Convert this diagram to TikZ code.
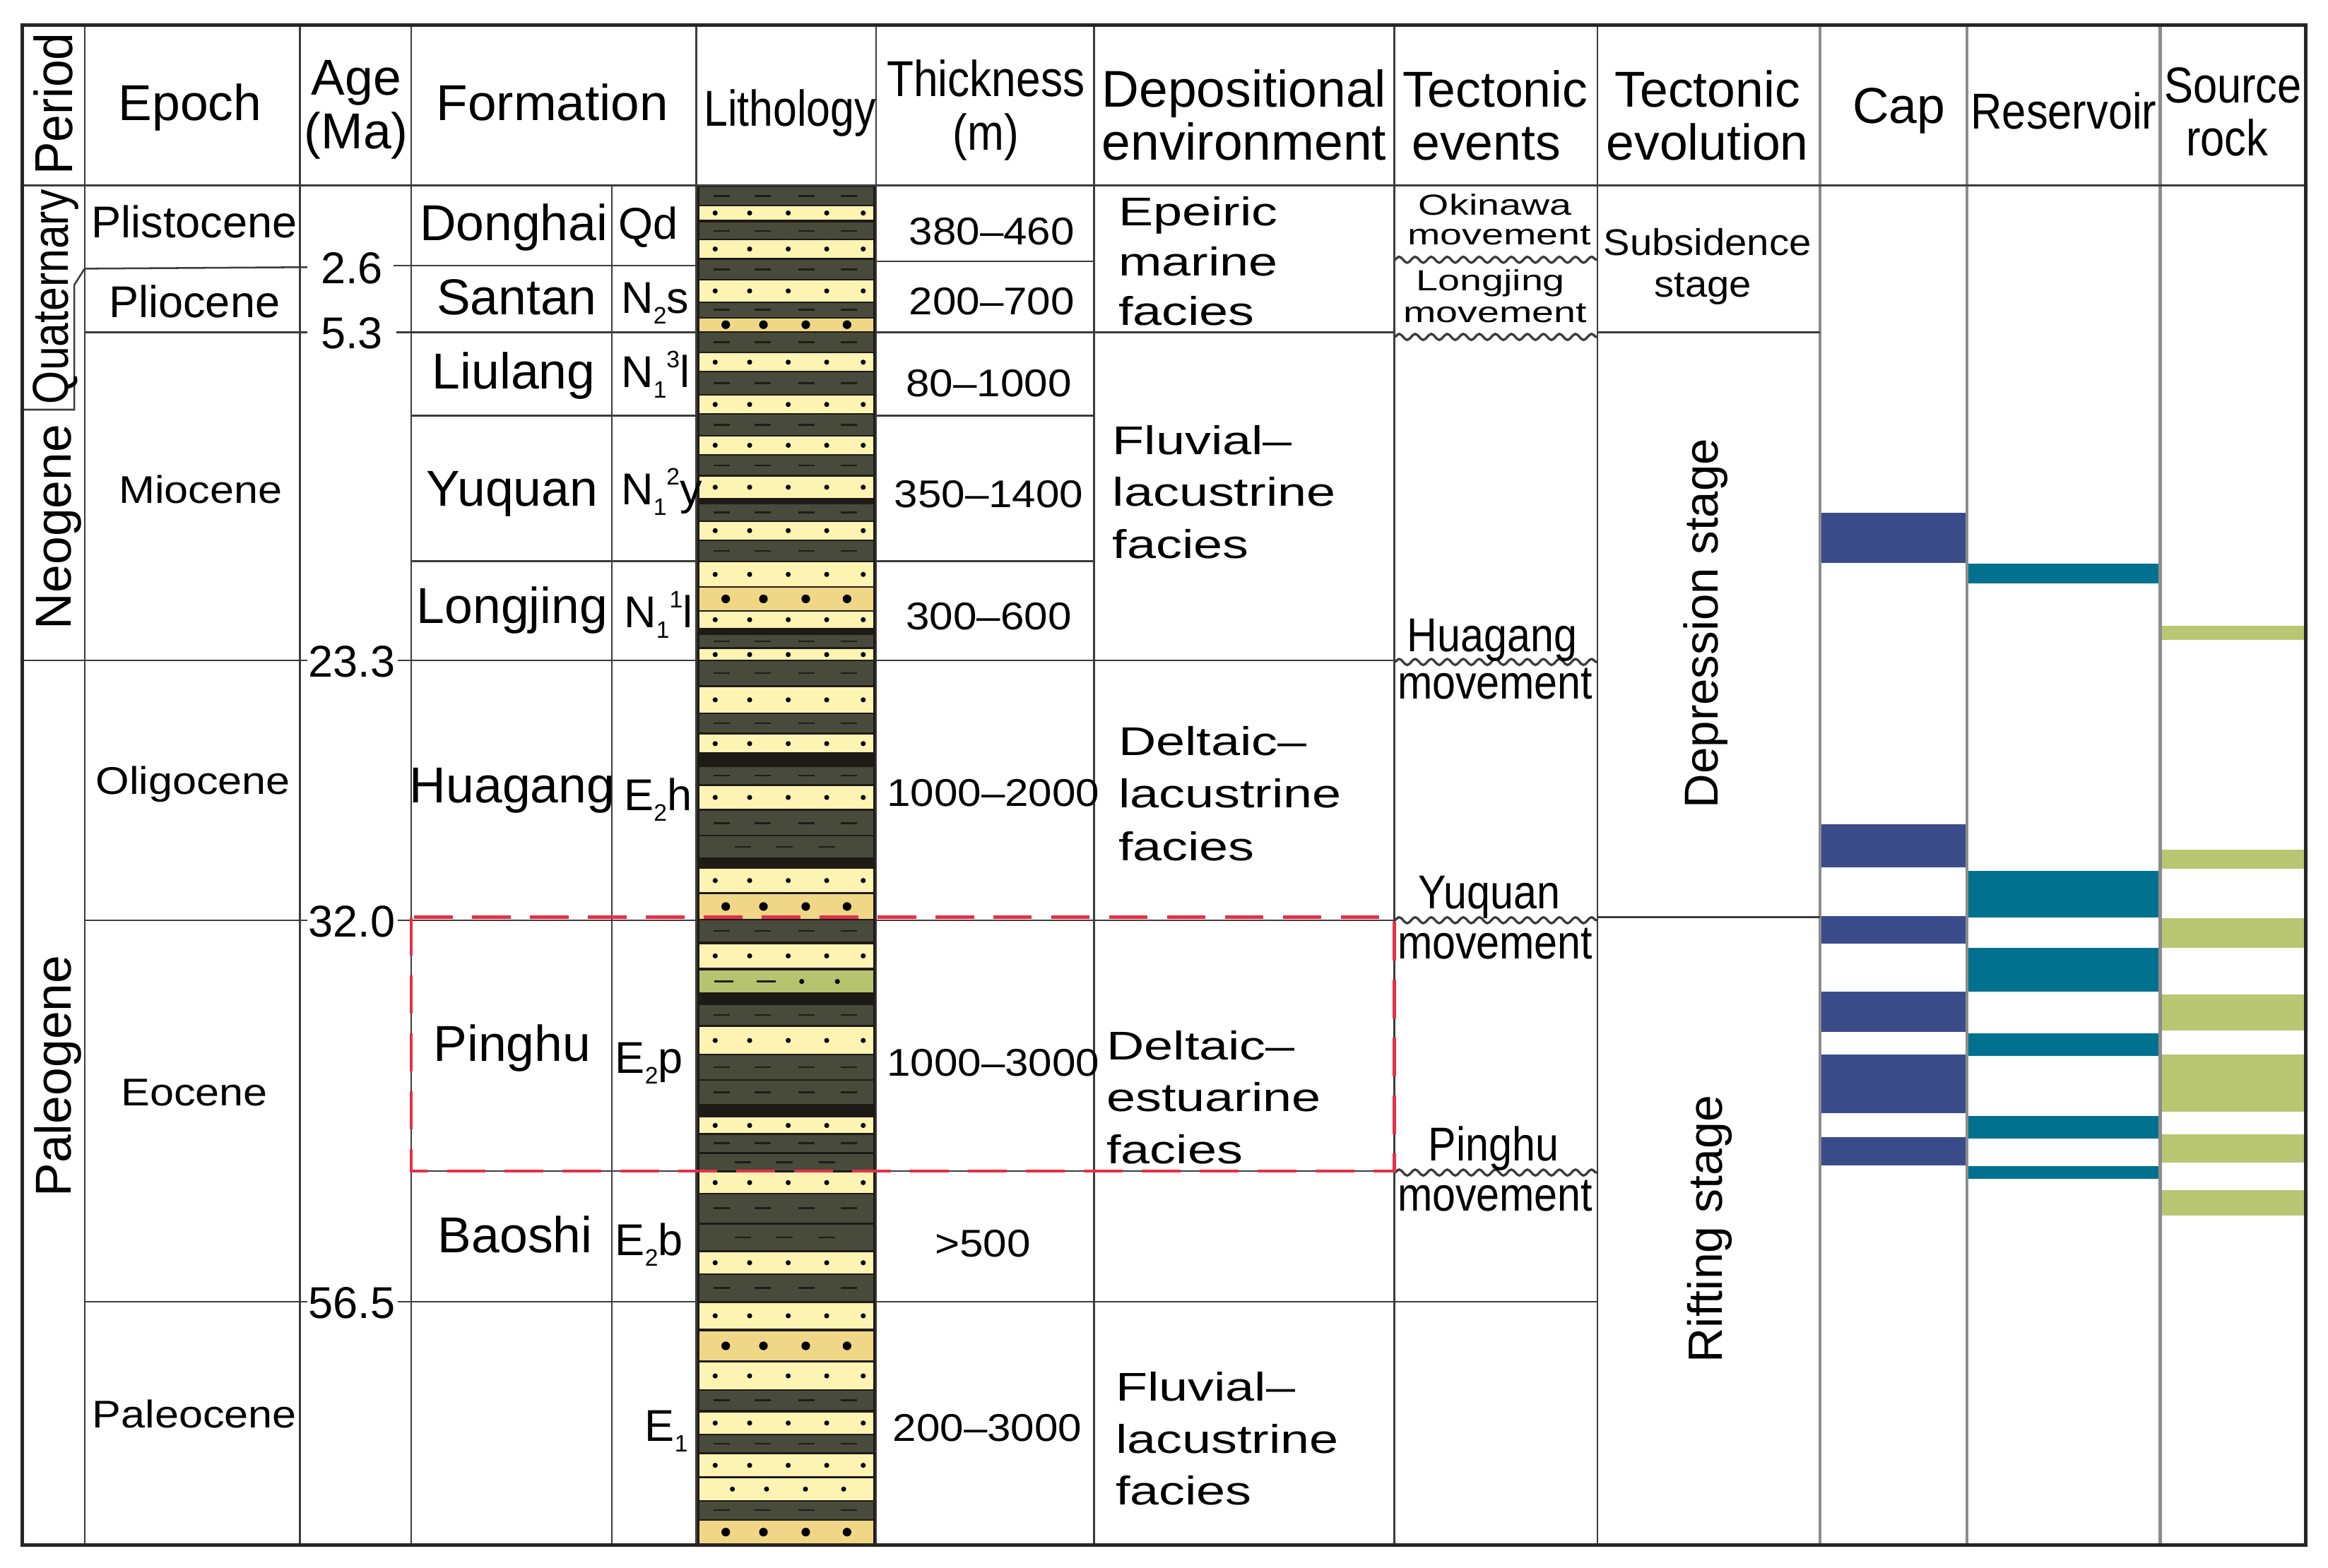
\documentclass[tikz,border=0pt]{standalone}
\usepackage{fontspec}
\setmainfont{Liberation Sans}
\usetikzlibrary{decorations.pathmorphing}
\definecolor{shale}{RGB}{72,74,60}
\definecolor{sand}{RGB}{253,244,180}
\definecolor{cong}{RGB}{240,215,135}
\definecolor{silt}{RGB}{182,196,112}
\definecolor{litbg}{RGB}{30,26,22}
\definecolor{dashc}{RGB}{30,30,24}
\definecolor{capc}{RGB}{58,77,138}
\definecolor{resc}{RGB}{0,114,143}
\definecolor{srcc}{RGB}{185,198,114}
\definecolor{redd}{RGB}{228,48,72}
\definecolor{gridc}{RGB}{60,60,60}
\definecolor{gridl}{RGB}{140,140,140}
\newcommand\fs[2]{\fontsize{#1}{#1}\selectfont\addfontfeature{FakeStretch=#2}}
\newcommand\lsub[1]{\raisebox{-0.45ex}{\fontsize{8}{8}\selectfont #1}}
\newcommand\lsup[1]{\raisebox{0.85ex}{\fontsize{8}{8}\selectfont #1}}
\tikzset{
  tb/.style={anchor=base, inner sep=0pt},
  tw/.style={anchor=base west, inner sep=0pt},
  grid/.style={draw=gridc, line width=0.6pt},
  gridg/.style={draw=gridl, line width=1pt},
  wavy/.style={draw=gridc, line width=0.8pt, decorate, decoration={snake, amplitude=1pt, segment length=5.4pt}},
  hdr/.style={tb, font=\fs{17}{1}},
  hdrn/.style={tb, font=\fs{17}{0.86}},
  epo/.style={tb, font=\fs{13}{1.12}},
  agel/.style={tb, font=\fs{15}{1}},
  fmn/.style={tb, font=\fs{17}{1}},
  code/.style={tw, font=\fs{15}{1}},
  thk/.style={tb, font=\fs{13}{1.1}},
  dep/.style={tw, font=\fs{13.5}{1.3}},
  evs/.style={tb, font=\fs{9.8}{1.35}},
  evb/.style={tb, font=\fs{16}{0.88}},
  redbox/.style={draw=redd, line width=1.1pt, dash pattern=on 13pt off 6.5pt}
}
\begin{document}
\begin{tikzpicture}[x=0.5pt, y=-0.5pt]
\useasboundingbox (0,0) rectangle (1568,1056);
\fill[white] (0,0) rectangle (1568,1056);

% ---------- lithology column ----------
\fill[litbg] (469,125) rectangle (590,1041);
\foreach \t/\b/\k in {
  126/138/1, 139/148/2, 150/161/1, 162/173.5/2, 175/188/1, 189/203/2, 204/213.5/1, 214.5/223/3,
  224/237/1, 238/250/2, 251/265.5/1, 266.5/278.5/2, 279.5/293/1, 294/306/2, 307/320/1, 321/335.5/2,
  340/350.5/1, 351.5/363.5/2, 364.5/378/1, 379/395/2, 396/411/3, 412/423/2,
  428/436/1, 437.5/444.5/2, 445.5/461.5/1, 463/480/2, 481/493.5/1, 495/507/2,
  517/528/1, 529.5/545/2, 546.5/562.5/1, 563.5/577.5/5,
  585.5/601/2, 602.5/619/3, 620/634.5/1, 636/652/2, 654/668.5/4,
  677/690.5/1, 692/710/2, 711/727/1, 728/744/1,
  753/763.5/2, 764.5/776/1, 777.4/788.6/5, 790/803.5/2, 804.5/823.5/1, 825/842.5/5,
  843.5/858/2, 859/876.5/1, 878/895/2, 897/916.5/3, 918/936/2, 937/950/1, 951.5/966/2,
  967/978.5/1, 980/994.5/2, 996/1010.5/6, 1011.5/1023.5/1, 1024.5/1040/3}{
  \pgfmathsetmacro\m{(\t+\b)/2}
  \ifcase\k\relax
  \or
    \fill[shale] (471,\t) rectangle (588,\b);
    \foreach \a in {480.6,508.4,537.8,566.3} \draw[dashc, line width=0.6pt] (\a,\m) -- ++(11,0);
  \or
    \fill[sand] (471,\t) rectangle (588,\b);
    \foreach \a in {481.7,504.9,530.9,556.8,581.4} \fill[black] (\a,\m) circle (0.85pt);
  \or
    \fill[cong] (471,\t) rectangle (588,\b);
    \foreach \a in {488.8,514.2,542.7,570.5} \fill[black] (\a,\m) circle (1.45pt);
  \or
    \fill[silt] (471,\t) rectangle (588,\b);
    \foreach \a in {481,509.6} \draw[dashc, line width=0.6pt] (\a,\m) -- ++(13,0);
    \foreach \a in {540,564} \fill[black] (\a,\m) circle (0.85pt);
  \or
    \fill[shale] (471,\t) rectangle (588,\b);
    \foreach \a in {494.9,522.7,551.3} \draw[dashc, line width=0.6pt] (\a,\m) -- ++(11,0);
  \or
    \fill[sand] (471,\t) rectangle (588,\b);
    \foreach \a in {493.3,516.3,542.5,568.2} \fill[black] (\a,\m) circle (0.85pt);
  \fi
}

% ---------- cap / reservoir / source bands ----------
\foreach \t/\b in {345.7/379.2, 555.1/584.2, 617/635.9, 668/695.3, 710.6/749.9, 766.2/785.2}
  \fill[capc] (1227,\t) rectangle (1324.5,\b);
\foreach \t/\b in {379.5/393, 586.7/618.1, 638.8/668, 696.3/711.6, 751.7/767, 785.6/794.3}
  \fill[resc] (1325.5,\t) rectangle (1454.5,\b);
\foreach \t/\b in {421.5/431.3, 572.6/585.3, 618.8/638.8, 669.8/694.2, 710.6/748.8, 764.4/783.4, 801.6/819}
  \fill[srcc] (1455.5,\t) rectangle (1552,\b);

% ---------- grid ----------
\foreach \x in {57,202,277,469,590,737,939,1076} \draw[grid] (\x,17) -- (\x,1041);
\draw[grid] (412,125) -- (412,1041);
\foreach \x in {1226,1325,1455} \draw[gridg] (\x,17) -- (\x,1041);
\draw[grid] (15,125) -- (1553,125);
% Quaternary tab
\draw[grid] (57,181) -- (50,192) -- (50,276) -- (15,276);
% epoch + formation boundaries
\draw[grid] (57,181) -- (207,180);  \draw[grid] (265,179) -- (469,179);  \draw[grid] (590,176) -- (737,176);
\draw[grid] (57,224) -- (207,224);  \draw[grid] (267,224) -- (469,224);  \draw[grid] (590,224) -- (939,224);
\draw[grid] (1076,224) -- (1226,224);
\draw[grid] (277,280) -- (469,280); \draw[grid] (590,280) -- (737,280);
\draw[grid] (277,378) -- (469,378); \draw[grid] (590,378) -- (737,378);
\draw[grid] (15,445) -- (207,445);  \draw[grid] (268,445) -- (469,445);  \draw[grid] (590,445) -- (939,445);
\draw[grid] (57,620) -- (207,620);  \draw[grid] (268,620) -- (469,620);  \draw[grid] (590,620) -- (939,620);
\draw[grid] (1076,618) -- (1226,618);
\draw[grid] (277,789) -- (469,789); \draw[grid] (590,789) -- (939,789);
\draw[grid] (57,877) -- (207,877);  \draw[grid] (268,877) -- (469,877);  \draw[grid] (590,877) -- (1076,877);
% unconformities
\foreach \y in {175,227,446,620,790} \draw[wavy] (939,\y) -- (1076,\y);
% outer frame
\draw[draw=black!85, line width=1.3pt] (15,17) rectangle (1553,1041);

% ---------- header ----------
\node[tb, font=\fs{18}{0.92}, rotate=90] (hPer) at (49,70) {Period};
\node[hdr] (hEp) at (128,81) {Epoch};
\node[hdr] (hAge1) at (240,64) {Age};
\node[hdr] (hAge2) at (240,100) {(Ma)};
\node[tb, font=\fs{17}{1.02}] (hFm) at (372,81) {Formation};
\node[tb, font=\fs{17}{0.85}] (hLi) at (532,85) {Lithology};
\node[tb, font=\fs{17}{0.87}] (hTh1) at (664,65) {Thickness};
\node[tb, font=\fs{17}{0.87}] (hTh2) at (664,101) {(m)};
\node[tb, font=\fs{17.4}{1}] (hDe1) at (838,72) {Depositional};
\node[tb, font=\fs{17.4}{1}] (hDe2) at (838,108) {environment};
\node[hdr] (hTe1) at (1007,72) {Tectonic};
\node[hdr] (hTe2) at (1001,108) {events};
\node[hdr] (hEv1) at (1150,72) {Tectonic};
\node[hdr] (hEv2) at (1150,108) {evolution};
\node[hdr] (hCap) at (1279,83) {Cap};
\node[hdrn] (hRes) at (1390,87) {Reservoir};
\node[hdrn] (hSo1) at (1504,69) {Source};
\node[hdrn] (hSo2) at (1500,105) {rock};

% ---------- period ----------
\node[tb, font=\fs{17}{0.85}, rotate=90] (pQ) at (46,200) {Quaternary};
\node[tb, font=\fs{17}{1}, rotate=90] (pN) at (48,355) {Neogene};
\node[tb, font=\fs{17}{1}, rotate=90] (pP) at (48,725) {Paleogene};

% ---------- epoch ----------
\node[tb, font=\fs{15}{1}] (ePl) at (131,160) {Plistocene};
\node[tb, font=\fs{15}{1}] (ePi) at (131,214) {Pliocene};
\node[epo] (eMi) at (135,339) {Miocene};
\node[epo] (eOl) at (130,535) {Oligocene};
\node[epo] (eEo) at (131,745) {Eocene};
\node[epo] (ePa) at (131,962) {Paleocene};

% ---------- ages ----------
\node[agel] (a1) at (237,191) {2.6};
\node[agel] (a2) at (237,235) {5.3};
\node[agel] (a3) at (237,456) {23.3};
\node[agel] (a4) at (237,631) {32.0};
\node[agel] (a5) at (237,888) {56.5};

% ---------- formations ----------
\node[fmn] (fDo) at (346,162) {Donghai};
\node[fmn] (fSa) at (348,212) {Santan};
\node[fmn] (fLi) at (346,262) {Liulang};
\node[fmn] (fYu) at (345,341) {Yuquan};
\node[fmn] (fLo) at (345,420) {Longjing};
\node[fmn] (fHu) at (345,541) {Huagang};
\node[fmn] (fPi) at (345,715) {Pinghu};
\node[fmn] (fBa) at (347,844) {Baoshi};
\node[code] (cDo) at (416,161) {Qd};
\node[code] (cSa) at (418,211) {N\lsub{2}s};
\node[code] (cLi) at (418,261) {N\lsub{1}\lsup{3}l};
\node[code] (cYu) at (418,340) {N\lsub{1}\lsup{2}y};
\node[code] (cLo) at (420,423) {N\lsub{1}\lsup{1}l};
\node[code] (cHu) at (420,546) {E\lsub{2}h};
\node[code] (cPi) at (414,723) {E\lsub{2}p};
\node[code] (cBa) at (414,846) {E\lsub{2}b};
\node[code] (cE1) at (434,971) {E\lsub{1}};

% ---------- thickness ----------
\node[thk] (t1) at (668,165) {380–460};
\node[thk] (t2) at (668,212) {200–700};
\node[thk] (t3) at (666,267) {80–1000};
\node[thk] (t4) at (666,342) {350–1400};
\node[thk] (t5) at (666,424) {300–600};
\node[thk] (t6) at (669,543) {1000–2000};
\node[thk] (t7) at (669,725) {1000–3000};
\node[thk] (t8) at (662,847) {>500};
\node[thk] (t9) at (665,971) {200–3000};

% ---------- depositional environment ----------
\node[dep] (d1a) at (753,152) {Epeiric};
\node[dep] (d1b) at (753,186) {marine};
\node[dep] (d1c) at (753,219) {facies};
\node[dep] (d2a) at (749,306) {Fluvial–};
\node[dep] (d2b) at (749,341) {lacustrine};
\node[dep] (d2c) at (749,376) {facies};
\node[dep] (d3a) at (753,509) {Deltaic–};
\node[dep] (d3b) at (753,544) {lacustrine};
\node[dep] (d3c) at (753,580) {facies};
\node[dep] (d4a) at (745,714) {Deltaic–};
\node[dep] (d4b) at (745,749) {estuarine};
\node[dep] (d4c) at (745,784) {facies};
\node[dep] (d5a) at (751,944) {Fluvial–};
\node[dep] (d5b) at (751,979) {lacustrine};
\node[dep] (d5c) at (751,1014) {facies};

% ---------- tectonic events ----------
\node[evs] (m1a) at (1007,145) {Okinawa};
\node[evs] (m1b) at (1010,165) {movement};
\node[evs] (m2a) at (1004,196) {Longjing};
\node[evs] (m2b) at (1007,217) {movement};
\node[evb] (m3a) at (1005,439) {Huagang};
\node[evb] (m3b) at (1007,471) {movement};
\node[evb] (m4a) at (1003,612) {Yuquan};
\node[evb] (m4b) at (1007,646) {movement};
\node[evb] (m5a) at (1006,782) {Pinghu};
\node[evb] (m5b) at (1007,816) {movement};

% ---------- tectonic evolution ----------
\node[tb, font=\fs{12.5}{1.07}] (s1a) at (1150,172) {Subsidence};
\node[tb, font=\fs{12.5}{1.07}] (s1b) at (1147,200) {stage};
\node[tb, font=\fs{16}{1}, rotate=90] (s2) at (1157,420) {Depression stage};
\node[tb, font=\fs{16.2}{1}, rotate=90] (s3) at (1160,828) {Rifting stage};

% ---------- highlighted interval ----------
\draw[redbox] (277,618) rectangle (939,789);
\end{tikzpicture}
\end{document}
